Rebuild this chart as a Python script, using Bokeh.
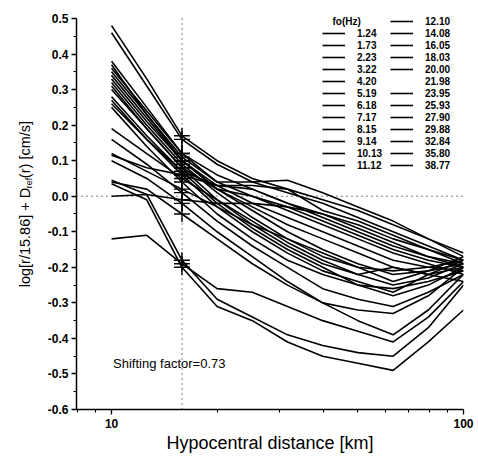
import numpy as np
from bokeh.plotting import figure
from bokeh.layouts import row
from bokeh.models import (Range1d, FixedTicker, NumeralTickFormatter, Span, Label,
                          Legend, LegendItem)
from bokeh.embed import file_html
from bokeh.resources import INLINE

# ---------------- data ----------------
distance_km = [10.0, 12.59, 15.85, 19.95, 25.12, 31.62, 39.81, 50.12, 63.10, 79.43, 100.0]
ref_distance = 15.86

freq_labels = ["1.24", "1.73", "2.23", "3.22", "4.20", "5.19", "6.18", "7.17", "8.15",
               "9.14", "10.13", "11.12", "12.10", "14.08", "16.05", "18.03", "20.00",
               "21.98", "23.95", "25.93", "27.90", "29.88", "32.84", "35.80", "38.77"]

d_1_24 = [0.48, 0.33, 0.17, 0.10, 0.05, 0.02, -0.01, -0.04, -0.08, -0.12, -0.16]
d_1_73 = [0.46, 0.31, 0.16, 0.09, 0.04, 0.01, -0.02, -0.06, -0.10, -0.14, -0.18]
d_2_23 = [0.38, 0.25, 0.12, 0.04, 0.04, 0.045, 0.01, -0.03, -0.07, -0.12, -0.17]
d_3_22 = [0.36, 0.24, 0.12, 0.06, 0.02, -0.02, -0.06, -0.10, -0.14, -0.17, -0.20]
d_4_20 = [0.35, 0.23, 0.11, 0.04, 0.00, -0.04, -0.08, -0.12, -0.16, -0.19, -0.22]
d_5_19 = [0.34, 0.22, 0.10, 0.03, -0.02, -0.06, -0.10, -0.14, -0.18, -0.20, -0.21]
d_6_18 = [0.37, 0.23, 0.10, 0.02, -0.03, -0.08, -0.12, -0.16, -0.20, -0.22, -0.20]
d_7_17 = [0.00, 0.005, -0.01, -0.02, -0.02, -0.03, -0.05, -0.08, -0.12, -0.15, -0.18]
d_8_15 = [0.115, 0.08, 0.06, 0.03, 0.03, 0.02, -0.04, -0.07, -0.11, -0.15, -0.19]
d_9_14 = [0.30, 0.19, 0.08, 0.02, 0.00, -0.03, -0.07, -0.11, -0.15, -0.18, -0.20]
d_10_13 = [0.26, 0.16, 0.07, 0.03, 0.02, -0.02, -0.05, -0.09, -0.13, -0.17, -0.19]
d_11_12 = [0.33, 0.21, 0.10, 0.02, -0.04, -0.10, -0.15, -0.19, -0.22, -0.21, -0.19]
d_12_10 = [0.32, 0.20, 0.09, 0.01, -0.06, -0.12, -0.17, -0.20, -0.21, -0.20, -0.18]
d_14_08 = [0.31, 0.19, 0.08, -0.01, -0.08, -0.14, -0.19, -0.22, -0.20, -0.22, -0.24]
d_16_05 = [0.28, 0.17, 0.07, -0.02, -0.09, -0.15, -0.20, -0.25, -0.26, -0.24, -0.21]
d_18_03 = [0.27, 0.16, 0.06, -0.03, -0.10, -0.16, -0.21, -0.24, -0.27, -0.22, -0.18]
d_20_00 = [0.25, 0.14, 0.04, -0.05, -0.12, -0.18, -0.22, -0.25, -0.28, -0.25, -0.20]
d_21_98 = [0.19, 0.12, 0.05, -0.01, -0.07, -0.13, -0.18, -0.22, -0.25, -0.23, -0.19]
d_23_95 = [0.12, 0.07, 0.02, -0.03, -0.08, -0.12, -0.16, -0.20, -0.24, -0.21, -0.17]
d_25_93 = [0.16, 0.09, 0.01, -0.07, -0.14, -0.20, -0.26, -0.29, -0.31, -0.27, -0.22]
d_27_90 = [0.04, 0.02, -0.05, -0.12, -0.19, -0.25, -0.30, -0.32, -0.33, -0.28, -0.20]
d_29_88 = [0.10, 0.05, -0.02, -0.10, -0.17, -0.24, -0.30, -0.35, -0.39, -0.32, -0.22]
d_32_84 = [-0.12, -0.11, -0.19, -0.26, -0.27, -0.31, -0.35, -0.38, -0.41, -0.34, -0.24]
d_35_80 = [0.045, 0.005, -0.18, -0.29, -0.34, -0.39, -0.42, -0.44, -0.45, -0.37, -0.25]
d_38_77 = [0.035, -0.01, -0.20, -0.31, -0.35, -0.41, -0.45, -0.47, -0.49, -0.41, -0.32]

curves = [d_1_24, d_1_73, d_2_23, d_3_22, d_4_20, d_5_19, d_6_18, d_7_17, d_8_15,
          d_9_14, d_10_13, d_11_12, d_12_10, d_14_08, d_16_05, d_18_03, d_20_00,
          d_21_98, d_23_95, d_25_93, d_27_90, d_29_88, d_32_84, d_35_80, d_38_77]

y_ticks = [-0.6, -0.5, -0.4, -0.3, -0.2, -0.1, 0.0, 0.1, 0.2, 0.3, 0.4, 0.5]
x_ticks = [10, 100]
x_minor = [8, 9, 20, 30, 40, 50, 60, 70, 80, 90]

FONT = "Liberation Sans"
LEFT_W = 40
H = 457

# ---------------- y-axis title strip ----------------
lab = figure(width=LEFT_W, height=H, x_range=Range1d(0, LEFT_W), y_range=Range1d(0, H),
             output_backend="svg", toolbar_location=None,
             x_axis_location=None, y_axis_location=None,
             min_border=0, min_border_left=0, min_border_right=0,
             min_border_top=0, min_border_bottom=0)
lab.outline_line_color = None
lab.xgrid.visible = False
lab.ygrid.visible = False

ang = np.pi / 2
lab.add_layout(Label(x=24, y=H - 203, angle=ang,
                     text="log[r/15.86] + D", text_font=FONT, text_font_size="14.5px",
                     text_baseline="middle", text_align="right", text_color="black"))
lab.add_layout(Label(x=28, y=H - 197.5, angle=ang,
                     text="ref", text_font=FONT, text_font_size="9px",
                     text_baseline="middle", text_align="center", text_color="black"))
lab.add_layout(Label(x=24, y=H - 192, angle=ang,
                     text="(r) [cm/s]", text_font=FONT, text_font_size="14.5px",
                     text_baseline="middle", text_align="left", text_color="black"))

# ---------------- main figure ----------------
p = figure(width=478 - LEFT_W, height=H, x_axis_type="log",
           x_range=Range1d(7.95, 100), y_range=Range1d(-0.6, 0.5225),
           output_backend="svg", toolbar_location=None,
           min_border_left=76 - LEFT_W, min_border_right=15, min_border_top=10,
           min_border_bottom=48)
p.outline_line_color = None
p.xgrid.visible = False
p.ygrid.visible = False
p.background_fill_color = "white"
p.border_fill_color = "white"

for ax in (p.xaxis[0], p.yaxis[0]):
    ax.axis_line_width = 1.5
    ax.axis_line_color = "black"
    ax.major_tick_line_color = "black"
    ax.minor_tick_line_color = "black"
    ax.major_tick_line_width = 1.3
    ax.minor_tick_line_width = 1.1
    ax.major_tick_in = 0
    ax.major_tick_out = 5
    ax.minor_tick_in = 0
    ax.minor_tick_out = 3
    ax.major_label_text_font = FONT
    ax.major_label_text_font_size = "12px"
    ax.major_label_text_font_style = "bold"
    ax.major_label_text_color = "black"

p.xaxis.ticker = FixedTicker(ticks=x_ticks, minor_ticks=x_minor)
p.xaxis.formatter = NumeralTickFormatter(format="0")
p.xaxis.major_label_standoff = 4
p.xaxis.axis_label = "Hypocentral distance [km]"
p.xaxis.axis_label_text_font = FONT
p.xaxis.axis_label_text_font_size = "18px"
p.xaxis.axis_label_text_font_style = "normal"
p.xaxis.axis_label_text_color = "black"
p.xaxis.axis_label_standoff = 2

y_minor = [round(t + 0.05, 2) for t in y_ticks[:-1]]
p.yaxis.ticker = FixedTicker(ticks=y_ticks, minor_ticks=y_minor)
p.yaxis.formatter = NumeralTickFormatter(format="0.0")
p.yaxis.major_label_standoff = 3
p.yaxis.bounds = (y_ticks[0], y_ticks[-1])

# reference lines
p.segment(x0=[ref_distance], y0=[y_ticks[0]], x1=[ref_distance], y1=[y_ticks[-1]],
          line_color="black", line_width=1, line_dash="1 4")
p.add_layout(Span(location=0, dimension="width", line_color="black",
                  line_width=1, line_dash="1 4"))

# curves
renderers = []
for c in curves:
    r = p.line(distance_km, c, line_color="black", line_width=1.6)
    renderers.append(r)

# crosses at reference distance
ref_idx = 2
p.scatter([distance_km[ref_idx]] * len(curves), [c[ref_idx] for c in curves],
          marker="cross", size=16, line_color="black", line_width=1.4)

# legend
blank = p.line([], [], line_alpha=0)
items = [LegendItem(label=" ", renderers=[blank])]
for lab_txt, r in zip(freq_labels, renderers):
    if lab_txt == "21.98":
        items.append(LegendItem(label=lab_txt, renderers=[blank]))
    else:
        items.append(LegendItem(label=lab_txt, renderers=[r]))

legend = Legend(items=items, location=(246, 238), orientation="vertical", nrows=13,
                glyph_width=23, glyph_height=12, label_height=12, label_width=33,
                label_standoff=12, spacing=0, padding=0, margin=0,
                border_line_alpha=0, background_fill_alpha=0,
                label_text_font=FONT, label_text_font_size="10px",
                label_text_font_style="bold", label_text_color="black")
p.add_layout(legend)

p.add_layout(Label(x=256, y=388, x_units="screen", y_units="screen", text="fo(Hz)",
                   text_font=FONT, text_font_size="10px", text_font_style="bold",
                   text_baseline="middle", text_color="black"))

p.add_layout(Label(x=10.1, y=-0.47, text="Shifting factor=0.73", text_font=FONT,
                   text_font_size="13px", text_baseline="middle", text_color="black"))

layout = row(lab, p, spacing=0)
open("out.html", "w").write(file_html(layout, INLINE))
